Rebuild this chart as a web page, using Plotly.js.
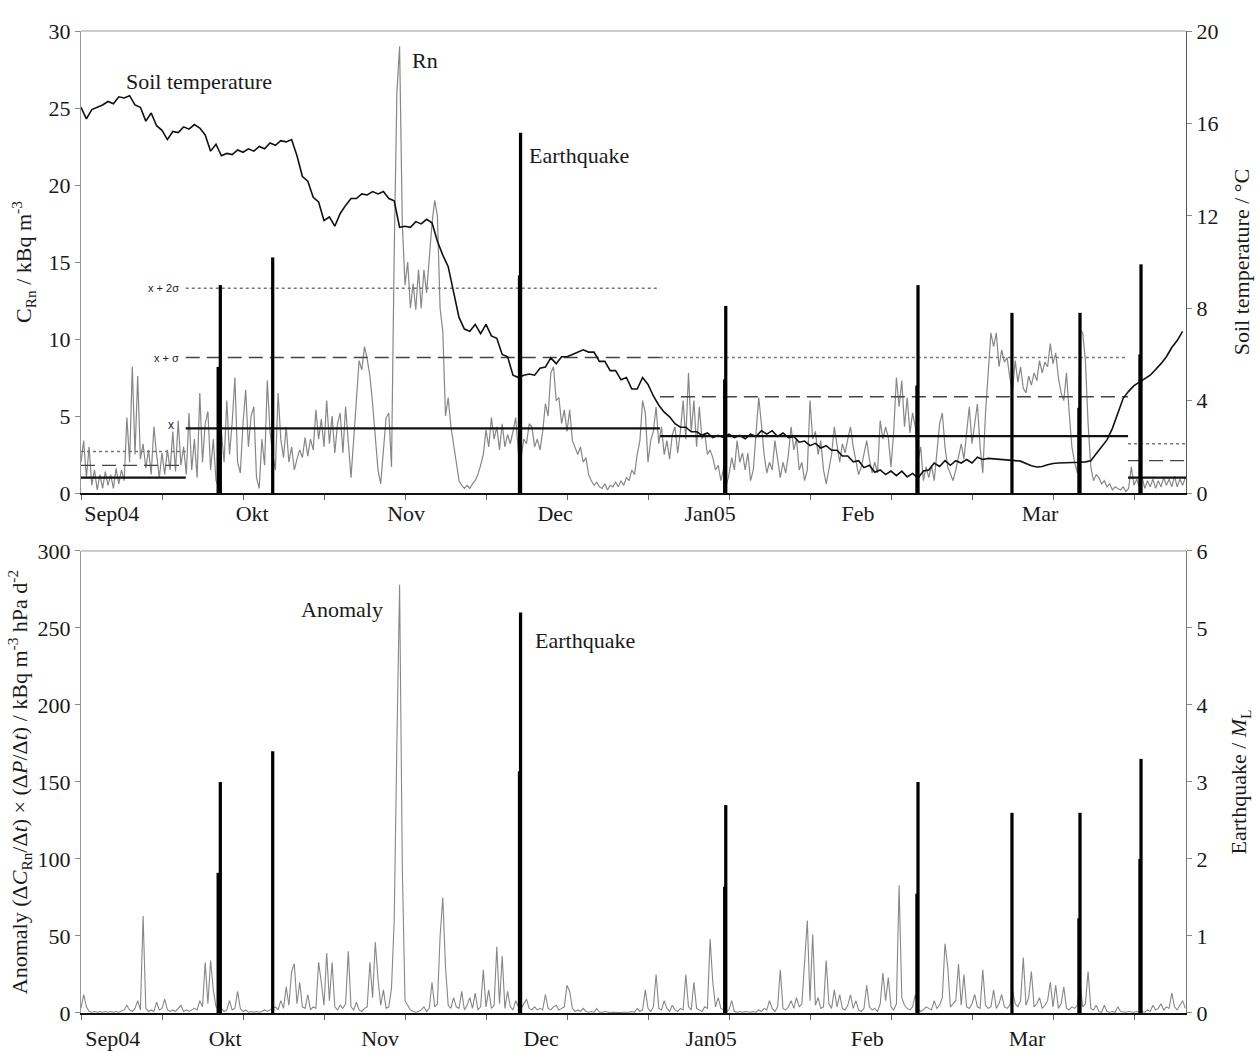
<!DOCTYPE html>
<html>
<head>
<meta charset="utf-8">
<script src="https://cdn.plot.ly/plotly-3.0.1.min.js"></script>
<style>html,body{margin:0;padding:0;background:#fff}#chart{width:1258px;height:1052px}</style>
</head>
<body>
<div id="chart"></div>
<script>
// ---------- DATA (days since 1 Sep 2004) ----------
const monthLabels = ['Sep04', 'Okt', 'Nov', 'Dec', 'Jan05', 'Feb', 'Mar'];
const topLabelDays = [5.7, 31.7, 60.2, 87.8, 116.5, 143.9, 177.6];
const bottomLabelDays = [5.9, 26.7, 55.4, 85.2, 116.7, 145.6, 175.2];
const dayRange = [0, 204.63];

// Radon concentration (kBq m^-3), one value every half day
const rnStepDays = 0.5;
const rnValues = [
 2.0,3.4,1.0,3.0,0.5,1.5,0.2,1.2,0.3,1.4,
 0.5,1.2,0.3,1.6,0.6,1.5,0.8,4.9,2.0,8.2,
 2.5,7.6,2.2,3.2,1.6,2.8,1.2,4.3,2.5,1.0,
 2.6,1.2,2.8,1.5,4.0,1.4,4.7,1.8,3.0,1.2,
 5.2,1.5,3.5,1.0,6.5,2.0,4.5,5.3,1.5,3.5,
 0.8,0.4,4.0,2.0,6.0,2.5,4.6,7.5,2.0,1.3,
 4.5,6.7,3.0,5.0,5.6,1.0,0.3,3.5,1.8,7.3,
 4.0,2.5,1.5,6.5,3.5,2.3,4.3,2.0,3.0,1.5,
 2.2,2.8,2.3,3.6,2.4,3.5,2.8,5.4,3.5,4.8,
 3.0,6.0,3.2,5.0,2.6,4.5,5.2,2.6,5.6,3.0,
 1.0,3.5,6.2,8.6,8.0,9.5,8.7,7.6,5.8,3.5,
 1.5,0.6,2.5,4.9,5.2,1.7,15.6,26.0,29.0,17.5,
 13.5,15.0,12.0,13.6,11.9,14.5,12.0,14.5,13.0,15.5,
 17.5,19.0,18.0,12.0,10.5,5.0,6.2,4.3,3.0,2.0,
 0.8,0.5,0.3,0.5,0.3,0.6,0.8,1.2,1.8,2.5,
 4.1,3.0,4.9,3.5,4.3,2.8,4.5,3.0,3.8,3.2,
 4.0,4.9,2.6,2.3,3.5,3.2,4.5,4.3,3.0,3.5,
 2.8,4.0,5.8,5.0,7.8,8.2,6.0,6.2,4.5,5.4,
 4.0,5.4,3.4,3.0,2.5,3.0,2.0,2.3,1.2,0.8,
 0.5,0.7,0.4,0.3,0.6,0.2,0.5,0.4,0.7,0.4,
 0.8,0.5,1.0,0.8,1.5,1.2,2.5,3.4,6.0,5.2,
 2.0,3.4,4.0,5.6,3.2,4.3,2.5,3.4,2.2,3.8,
 4.3,2.6,4.0,6.0,3.5,7.8,4.0,6.0,3.0,5.6,
 3.5,3.9,2.5,2.8,2.3,1.5,1.8,0.8,1.6,0.5,
 1.2,2.3,1.5,3.4,2.0,2.6,1.5,2.6,0.8,1.5,
 4.0,6.2,4.5,2.5,1.3,2.0,1.5,3.4,2.2,1.0,
 2.0,1.3,2.5,4.3,2.8,3.5,1.5,2.0,0.8,1.5,
 6.0,3.5,4.0,2.5,3.4,1.5,0.6,1.5,2.5,4.3,
 3.0,2.0,3.2,2.6,3.5,4.3,3.0,2.0,1.2,1.7,
 2.5,3.4,2.2,1.3,2.0,1.3,4.7,3.5,4.3,3.6,
 1.7,4.0,7.5,5.6,7.3,4.3,6.2,3.9,5.2,4.3,
 2.1,3.0,0.8,1.7,1.0,1.8,0.8,2.5,4.5,5.2,
 3.0,1.7,1.3,0.8,1.5,2.3,3.2,2.2,4.0,5.6,
 3.2,4.5,5.8,3.0,1.3,5.2,8.0,10.4,9.5,10.4,
 8.2,9.3,8.5,8.8,7.5,6.7,8.6,7.2,8.2,6.8,
 6.5,7.6,7.0,7.8,7.3,8.6,7.8,8.5,8.2,9.7,
 8.4,9.1,7.5,6.5,6.0,7.8,5.2,3.0,2.0,1.3,
 10.6,10.4,8.6,4.5,1.7,0.8,1.2,1.0,0.6,0.8,
 0.4,0.6,0.2,0.4,0.3,0.2,0.4,0.1,0.3,1.7,
 0.5,0.9,0.4,1.0,0.3,0.8,0.4,0.9,0.3,0.8,
 0.4,1.0,0.5,0.9,0.4,1.1,0.4,0.9,0.5,1.0
];

// Anomaly (kBq m^-3 hPa d^-2), one value every half day
const anomalyValues = [
 3,12,4,1,0.5,1,0.5,1,0.5,1,
 0.5,1,0.5,1,0.5,1,2,5,2,1,
 3,8,2,63,3,1,2,1,7,2,
 3,9,2,1,2,1,3,5,1,2,
 1,2,3,2,8,4,33,6,34,15,
 4,2,3,1,2,8,2,3,14,3,
 1,2,0.5,1,0.5,1,0.5,1,2,1,
 2,3,4,2,8,3,17,5,27,32,
 6,20,4,3,12,2,4,3,33,20,
 5,39,8,33,4,2,5,3,6,40,
 4,2,7,2,1,3,4,33,10,46,
 22,5,15,3,4,16,60,176,278,95,
 8,5,2,1,0.5,1,2,4,1,3,
 20,4,6,50,75,30,5,3,10,4,
 3,14,2,5,10,3,13,2,4,28,
 4,15,3,5,43,6,37,3,14,4,
 2,8,4,3,6,9,3,2,4,2,
 3,2,12,3,2,4,5,2,3,4,
 18,14,3,1,2,1,3,1,0.5,1,
 0.5,3,0.5,0.5,1,0.5,0.3,0.5,0.3,0.5,
 0.3,0.5,0.3,0.5,1,0.5,3,1,2,15,
 3,1,4,25,3,2,8,3,1,5,
 2,1,3,2,25,4,2,20,3,2,
 1,4,3,48,20,4,10,3,2,1,
 2,8,1,0.5,1,0.5,1,0.5,0.5,1,
 0.5,2,1,3,2,8,3,1,4,28,
 3,2,4,8,3,10,4,6,30,60,
 8,51,5,10,3,4,34,6,3,15,
 4,12,3,2,5,12,3,8,2,1,
 3,18,4,2,3,1,6,26,8,23,
 4,2,6,83,10,5,3,2,4,12,
 3,1,2,4,3,2,8,3,5,10,
 45,30,4,6,8,32,5,25,4,3,
 6,12,4,3,28,5,3,4,15,3,
 6,12,4,3,5,15,6,4,8,36,
 5,10,27,4,6,10,3,5,8,20,
 4,18,3,6,17,3,2,4,3,5,
 20,4,6,27,3,2,5,1,0.5,5,
 1,0.5,1,0.5,4,1,0.5,0.5,1,0.5,
 0.5,1,0.5,1,0.5,2,1,5,2,3,
 6,2,4,3,13,4,2,5,8,3
];

// Soil temperature (°C), one value per day
const soilTemp = [
 16.7,16.2,16.6,16.7,16.8,16.95,16.85,17.15,17.1,17.2,
 16.8,16.7,16.1,16.45,15.9,15.7,15.3,15.65,15.6,15.85,
 15.75,15.95,15.8,15.5,14.8,15.1,14.6,14.7,14.65,14.85,
 14.75,14.9,14.8,15.0,14.9,15.15,15.05,15.25,15.2,15.3,
 14.6,13.7,13.5,12.8,12.6,11.8,11.95,11.55,12.1,12.45,
 12.75,12.75,12.95,12.9,13.05,12.95,13.05,12.75,12.65,11.5,
 11.55,11.5,11.75,11.65,11.85,11.7,10.9,10.3,9.8,8.7,
 7.6,7.1,7.0,7.3,6.9,7.3,6.8,6.7,6.0,5.9,
 5.1,5.0,5.1,5.15,5.1,5.4,5.45,5.85,5.6,5.9,
 5.9,6.0,6.1,6.2,6.1,6.1,5.7,5.7,5.3,5.3,
 4.9,5.0,4.5,4.5,5.0,4.7,4.2,3.8,3.5,3.3,
 3.0,2.85,2.85,2.65,2.65,2.5,2.6,2.4,2.5,2.4,
 2.55,2.4,2.5,2.35,2.55,2.45,2.7,2.55,2.7,2.45,
 2.6,2.4,2.45,2.2,2.25,2.05,2.15,1.95,2.05,1.85,
 1.85,1.6,1.6,1.35,1.4,1.1,1.2,0.9,1.0,0.8,
 0.95,0.75,0.95,0.7,0.85,0.65,0.95,1.0,1.3,1.15,
 1.4,1.2,1.4,1.3,1.45,1.3,1.55,1.45,1.5,1.48,
 1.45,1.44,1.43,1.42,1.38,1.28,1.18,1.13,1.15,1.22,
 1.28,1.3,1.3,1.32,1.32,1.33,1.35,1.4,1.7,2.0,
 2.3,2.8,3.5,4.1,4.4,4.65,4.8,4.95,5.1,5.35,
 5.6,5.9,6.3,6.6,7.0
];

// Earthquakes: day and local magnitude M_L
const eqDay = [25.4, 25.8, 35.5, 81.2, 81.4, 119.2, 119.4, 154.8, 155.0, 172.4, 184.8, 185.0, 196.1, 196.3];
const eqMag = [1.82, 3.0, 3.4, 3.14, 5.2, 1.64, 2.7, 1.55, 3.0, 2.6, 1.23, 2.6, 2.0, 3.3];

// Statistics of the radon series for each period
const periodStart = [0, 19.4, 107.2, 193.9];
const periodEnd = [19.4, 107.2, 193.9, 204.63];
const rnMean = [1.0, 4.2, 3.7, 1.0];
const rnMeanPlusSigma = [1.8, 8.8, 6.25, 2.1];
const rnMeanPlus2Sigma = [2.7, 13.3, 8.8, 3.2];

// ---------- BUILD ----------
const rnDays = rnValues.map((_, i) => i * rnStepDays);
const anomalyDays = anomalyValues.map((_, i) => i * rnStepDays);
const tempDays = soilTemp.map((_, i) => i);

function periodSegments(levels) {
  const x = [], y = [];
  levels.forEach((v, k) => { x.push(periodStart[k], periodEnd[k], null); y.push(v, v, null); });
  return {x, y};
}

const FONT = 'Liberation Serif, "Times New Roman", Times, serif';
const GRAY = '#878787';

const s2 = periodSegments(rnMeanPlus2Sigma);
const s1 = periodSegments(rnMeanPlusSigma);
const s0 = periodSegments(rnMean);

const traces = [
  {type:'scatter', mode:'lines', x:rnDays, y:rnValues, xaxis:'x', yaxis:'y',
   line:{color:GRAY, width:1.2}, name:'Rn'},
  {type:'scatter', mode:'lines', x:s2.x, y:s2.y, xaxis:'x', yaxis:'y',
   line:{color:'#777', width:1.6, dash:'dot'}, name:'x + 2σ'},
  {type:'scatter', mode:'lines', x:s1.x, y:s1.y, xaxis:'x', yaxis:'y',
   line:{color:'#444', width:1.3, dash:'14px,7px'}, name:'x + σ'},
  {type:'scatter', mode:'lines', x:s0.x, y:s0.y, xaxis:'x', yaxis:'y',
   line:{color:'#111', width:2.2}, name:'x'},
  {type:'scatter', mode:'lines', x:tempDays, y:soilTemp, xaxis:'x', yaxis:'y2',
   line:{color:'#111', width:1.6}, name:'Soil temperature'},
  {type:'bar', x:eqDay, y:eqMag, xaxis:'x', yaxis:'y3', width:0.6,
   marker:{color:'#000', line:{width:0}}, name:'Earthquake'},
  {type:'scatter', mode:'lines', x:anomalyDays, y:anomalyValues, xaxis:'x2', yaxis:'y4',
   line:{color:GRAY, width:1.1}, name:'Anomaly'},
  {type:'bar', x:eqDay, y:eqMag, xaxis:'x2', yaxis:'y5', width:0.6,
   marker:{color:'#000', line:{width:0}}, name:'Earthquake M'}
];

const topDomain = [0.5295, 1];
const botDomain = [0, 0.4705];

function xAxis(labelDays, anchor, standoff) {
  return {
    domain:[0,1], anchor:anchor, range:dayRange, tickmode:'array',
    tickvals:labelDays, ticktext:monthLabels, ticks:'', showgrid:false, zeroline:false,
    showline:true, linecolor:'#111', linewidth:2, ticklabelstandoff:standoff,
    tickfont:{family:FONT, size:22, color:'#1a1a1a'},
    minor:{tickmode:'linear', tick0:0, dtick:15, ticks:'outside', ticklen:5, tickcolor:'#666', tickwidth:1, showgrid:false}
  };
}
function yAxis(opts) {
  return Object.assign({
    ticks:'outside', ticklen:5, tickcolor:'#888', tickwidth:1,
    showline:true, linecolor:'#999', linewidth:1, showgrid:false, zeroline:false,
    tickmode:'linear', tick0:0, tickfont:{family:FONT, size:22, color:'#1a1a1a'}
  }, opts);
}

const layout = {
  width:1258, height:1052, margin:{l:81, r:72, t:31, b:39},
  paper_bgcolor:'#fff', plot_bgcolor:'#fff', showlegend:false, barmode:'overlay',
  font:{family:FONT, size:22, color:'#1a1a1a'},
  xaxis: xAxis(topLabelDays, 'y', 0),
  xaxis2: xAxis(bottomLabelDays, 'y4', 5),
  yaxis: yAxis({domain:topDomain, anchor:'x', range:[0,30], dtick:5,
    title:{text:'C<sub>Rn</sub> / kBq m<sup>-3</sup>', standoff:10, font:{family:FONT, size:22}}}),
  yaxis2: yAxis({overlaying:'y', anchor:'x', side:'right', range:[0,20], dtick:4, linecolor:'#555',
    title:{text:'Soil temperature / °C', standoff:16, font:{family:FONT, size:22}}}),
  yaxis3: {overlaying:'y', anchor:'x', range:[0, 30/4.5], visible:false, fixedrange:true},
  yaxis4: yAxis({domain:botDomain, anchor:'x2', range:[0,300], dtick:50,
    title:{text:'Anomaly (Δ<i>C</i><sub>Rn</sub>/Δ<i>t</i>) × (Δ<i>P</i>/Δ<i>t</i>) / kBq m<sup>-3</sup> hPa d<sup>-2</sup>', standoff:3, font:{family:FONT, size:22}}}),
  yaxis5: yAxis({overlaying:'y4', anchor:'x2', side:'right', range:[0,6], dtick:1, linecolor:'#777',
    title:{text:'Earthquake / <i>M</i><sub>L</sub>', standoff:24, font:{family:FONT, size:22}}}),
  shapes:[
    {type:'line', xref:'paper', yref:'paper', x0:0, x1:1, y0:1, y1:1, line:{color:'#999', width:1}},
    {type:'line', xref:'paper', yref:'paper', x0:0, x1:1, y0:botDomain[1], y1:botDomain[1], line:{color:'#999', width:1}}
  ],
  annotations:[
    {xref:'x', yref:'y', x:21.9, y:26.7, text:'Soil temperature', showarrow:false, font:{family:FONT, size:22}},
    {xref:'x', yref:'y', x:60.9, y:28.1, text:'Rn', xanchor:'left', showarrow:false, font:{family:FONT, size:22}},
    {xref:'x', yref:'y', x:82.6, y:21.9, text:'Earthquake', xanchor:'left', showarrow:false, font:{family:FONT, size:22}},
    {xref:'x', yref:'y', x:18.6, y:13.3, text:'x + 2σ', xanchor:'right', showarrow:false, font:{family:'Liberation Sans, Arial, sans-serif', size:11, color:'#222'}},
    {xref:'x', yref:'y', x:18.6, y:8.8, text:'x + σ', xanchor:'right', showarrow:false, font:{family:'Liberation Sans, Arial, sans-serif', size:11, color:'#222'}},
    {xref:'x', yref:'y', x:17.6, y:4.4, text:'x', xanchor:'right', showarrow:false, font:{family:'Liberation Sans, Arial, sans-serif', size:12, color:'#222'}},
    {xref:'x2', yref:'y4', x:48.3, y:261.7, text:'Anomaly', showarrow:false, font:{family:FONT, size:22}},
    {xref:'x2', yref:'y4', x:83.7, y:242, text:'Earthquake', xanchor:'left', showarrow:false, font:{family:FONT, size:22}}
  ]
};

Plotly.newPlot('chart', traces, layout, {displayModeBar:false, staticPlot:true});
</script>
</body>
</html>
